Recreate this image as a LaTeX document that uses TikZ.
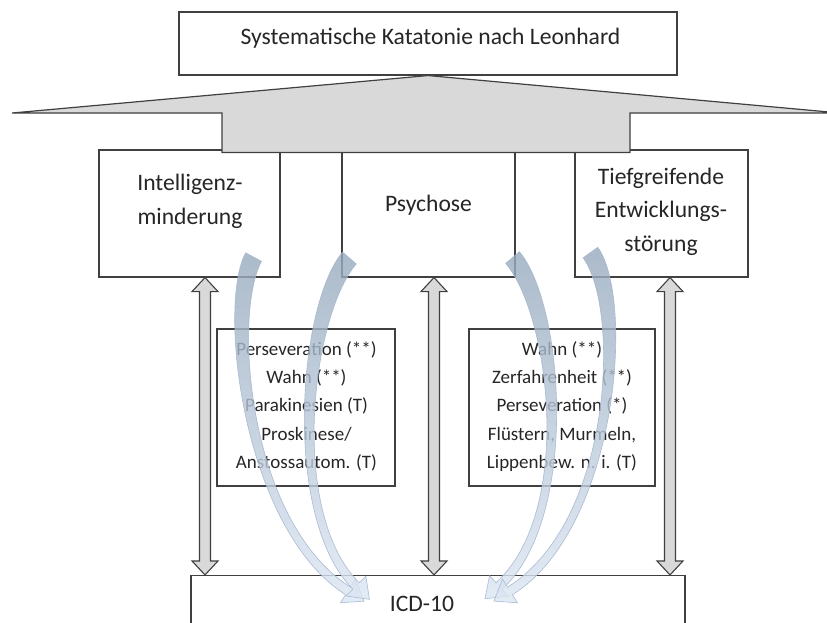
\documentclass[tikz,border=0pt]{standalone}
\usepackage{fontspec}
\setmainfont{Carlito}
\usetikzlibrary{positioning}
\usetikzlibrary{calc}
\definecolor{boxline}{HTML}{404040}
\definecolor{txtcol}{HTML}{262626}
\definecolor{arrgray}{HTML}{D9D9D9}
\definecolor{bendtop}{HTML}{97AABE}
\definecolor{bendbot}{HTML}{DCE6F3}
\definecolor{bendline}{HTML}{A3B7CF}
\newcommand{\bigtxt}{\fontsize{23.6}{33.5}\selectfont}
\newcommand{\smalltxt}{\fontsize{19}{28.3}\selectfont}
\newcommand{\updown}[1]{%
	\draw[updn] (#1) -- ++(13,14) -- ++(-7.5,0) -- ($(#1 |- icd.north)+(5.5,-14)$) -- ++(7.5,0) -- (#1 |- icd.north) -- ++(-13,-14) -- ++(7.5,0) -- ($(#1)+(-5.5,14)$) -- ++(-7.5,0) -- cycle;}
\newcommand{\bendarrow}[4]{%
	\coordinate (bs) at #1; \coordinate (bc) at #2; \coordinate (bd) at #3; \coordinate (be) at #4;
	\shadedraw[bendarr] ($(bs)!9pt!90:(bc)$) .. controls ($(bc)!9pt!-90:(bs)$) and ($(bd)!4.5pt!90:(be)$) .. ($(be)!4.5pt!-90:(bd)$)
		-- ($(be)!14pt!-90:(bd)$) -- ($(be)!-19pt!(bd)$) -- ($(be)!14pt!90:(bd)$) -- ($(be)!4.5pt!90:(bd)$)
		.. controls ($(bd)!4.5pt!-90:(be)$) and ($(bc)!9pt!90:(bs)$) .. ($(bs)!9pt!-90:(bc)$) -- cycle;}

\begin{document}
\begin{tikzpicture}[x=1pt, y=-1pt,
	box/.style={draw=boxline, line width=1.1pt, fill=white, inner sep=0pt},
	txt/.style={text=txtcol, inner sep=0pt, align=center},
	updn/.style={draw=boxline, line width=1.1pt, fill=arrgray, line join=miter},
	bigarr/.style={draw=boxline, line width=1.2pt, fill=arrgray},
	bendarr/.style={top color=bendtop, bottom color=bendbot, draw=bendline, line width=0.6pt, fill opacity=0.8, draw opacity=0.9}]
	\useasboundingbox (0,0) rectangle (827,622);
	\clip (0,0) rectangle (827,622);

	\node[box, minimum width=498pt, minimum height=63pt] (topbox) at (428,43.5) {};
	\node[txt, font=\bigtxt, anchor=base] (toptxt) at (430.5,44.5) {Systematische Katatonie nach Leonhard};

	\node[box, minimum width=181pt, minimum height=127pt] (intell) at (189.5,213.5) {};
	\node[txt, font=\bigtxt, anchor=base] (intelltxt) at (190,224) {Intelligenz-\\minderung};
	\node[box, minimum width=173pt, minimum height=127pt] (psych) at (428.5,213.5) {};
	\node[txt, font=\bigtxt, anchor=base] (psychtxt) at (428.5,211) {Psychose};
	\node[box, minimum width=173pt, minimum height=127pt] (tiefgr) at (661.5,213.5) {};
	\node[txt, font=\bigtxt, anchor=base] (tiefgrtxt) at (661,251) {Tiefgreifende\\Entwicklungs-\\störung};

	\node[box, minimum width=178pt, minimum height=157pt] (leftlist) at (306,407.5) {};
	\node[txt, font=\smalltxt, anchor=base] (lefttxt) at (306.5,468.3) {Perseveration (**)\\Wahn (**)\\Parakinesien (T)\\Proskinese/\\Anstossautom. (T)};
	\node[box, minimum width=186pt, minimum height=157pt] (rightlist) at (562,407.5) {};
	\node[txt, font=\smalltxt, anchor=base] (righttxt) at (562,468.3) {Wahn (**)\\Zerfahrenheit (**)\\Perseveration (*)\\Flüstern, Murmeln,\\Lippenbew. n. i. (T)};

	\node[box, minimum width=494pt, minimum height=75pt] (icd) at (438,613) {};
	\node[txt, font=\bigtxt, anchor=base] (icdtxt) at (422,611) {ICD-10};

	\draw[bigarr] (topbox.south) -- (840,113) -- (630,113) -- (630,152.5) -- (222,152.5) -- (222,113) -- (12,113) -- cycle;

	\coordinate (ud1) at ($(intell.south)+(15.5,0)$);
	\coordinate (ud2) at ($(psych.south)+(5.5,0)$);
	\coordinate (ud3) at ($(tiefgr.south)+(8.5,0)$);
	\updown{ud1}
	\updown{ud2}
	\updown{ud3}

	\bendarrow{($(intell.south east)+(-27,-20.5)$)}{(225,310)}{(245,525)}{($(icd.north)+(-90,16)$)}
	\bendarrow{($(psych.south west)+(8,-19.5)$)}{(305,310)}{(285,515)}{($(icd.north)+(-82,11)$)}
	\bendarrow{($(psych.south east)+(-3,-20)$)}{(557,310)}{(577,515)}{($(icd.north)+(61,11)$)}
	\bendarrow{($(tiefgr.south west)+(16,-25)$)}{(628,305)}{(615,525)}{($(icd.north)+(72,16)$)}
\end{tikzpicture}
\end{document}
